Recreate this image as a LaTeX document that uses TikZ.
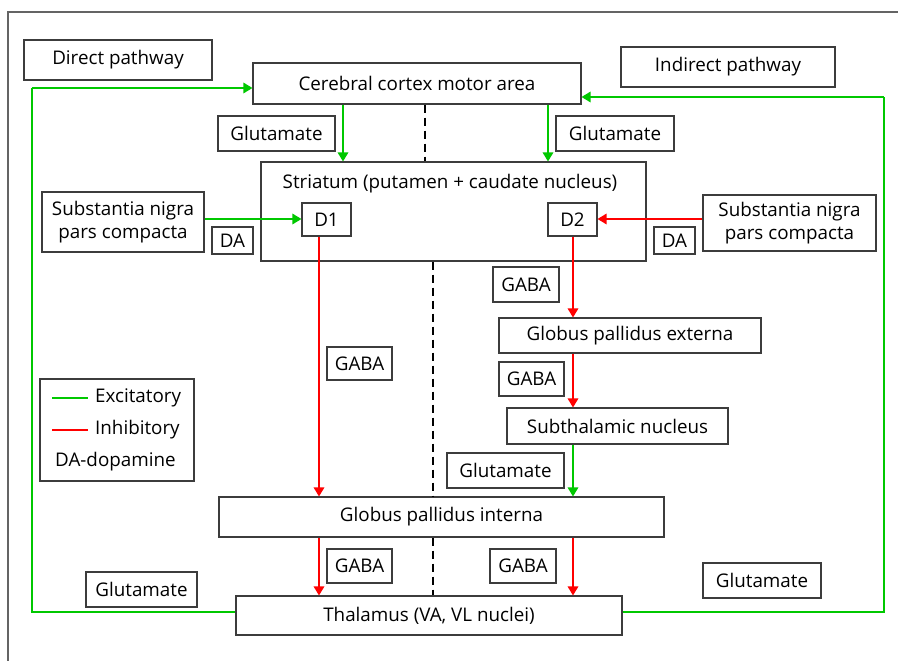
\documentclass[tikz,border=0pt]{standalone}
\usepackage{fontspec}
\setmainfont{Open Sans}
\usetikzlibrary{arrows.meta}
\definecolor{excc}{RGB}{0,200,0}
\definecolor{inhc}{RGB}{255,0,0}
\definecolor{edgec}{RGB}{60,60,60}
\definecolor{framec}{RGB}{100,100,100}
\begin{document}
\begin{tikzpicture}[x=1pt,y=-1pt,
  box/.style={draw=edgec, line width=1.1pt, inner sep=0pt, align=center, font=\fontsize{18.8}{22.5}\selectfont},
  txt/.style={inner sep=0pt, font=\fontsize{18.8}{22.5}\selectfont},
  exc/.style={draw=excc, line width=1.5pt, -{Triangle[width=10.5pt,length=9pt]}},
  inh/.style={draw=inhc, line width=1.5pt, -{Triangle[width=10.5pt,length=9pt]}},
  excline/.style={draw=excc, line width=1.5pt},
  inhline/.style={draw=inhc, line width=1.5pt},
  dashline/.style={draw=black, line width=1.1pt, dash pattern=on 8pt off 5pt}]
\useasboundingbox (0,0) rectangle (898,661);
\fill[white] (0,0) rectangle (898,661);
% frame (top and left)
\draw[framec, line width=1.5pt] (8,661) -- (8,12) -- (898,12);

% nodes
\node[box, minimum width=188pt, minimum height=40pt] (direct) at (118,60) {Direct pathway};
\node[box, minimum width=328pt, minimum height=41pt] (cortex) at (417,83.5) {Cerebral cortex motor area};
\node[box, minimum width=214pt, minimum height=40pt] (indirect) at (728,67) {Indirect pathway};
\node[box, minimum width=117pt, minimum height=35pt] (glutL) at (276.5,133.5) {Glutamate};
\node[box, minimum width=118pt, minimum height=35pt] (glutR) at (615,133.5) {Glutamate};
\node[box, minimum width=385pt, minimum height=99pt] (striatum) at (453.5,211.5) {};
\node[txt] (striatumlabel) at (450,184) {Striatum (putamen + caudate nucleus)};
\node[box, minimum width=49pt, minimum height=33pt] (D1) at (326.5,219.5) {D1};
\node[box, minimum width=49pt, minimum height=33pt] (D2) at (572.5,219.5) {D2};
\node[box, minimum width=162pt, minimum height=60pt] (snL) at (123,222) {Substantia nigra\\pars compacta};
\node[box, minimum width=41pt, minimum height=27pt] (daL) at (232.5,240.5) {DA};
\node[box, minimum width=173pt, minimum height=56pt] (snR) at (789.5,223) {Substantia nigra\\pars compacta};
\node[box, minimum width=41pt, minimum height=27pt] (daR) at (674.5,240.5) {DA};
\node[box, minimum width=66pt, minimum height=35pt] (gabaA) at (526,284.5) {GABA};
\node[box, minimum width=65pt, minimum height=33pt] (gabaB) at (359.5,363.5) {GABA};
\node[box, minimum width=262pt, minimum height=35pt] (gpe) at (630,335.5) {Globus pallidus externa};
\node[box, minimum width=65pt, minimum height=34pt] (gabaC) at (531.5,379) {GABA};
\node[box, minimum width=221pt, minimum height=36pt] (stn) at (617.5,426) {Subthalamic nucleus};
\node[box, minimum width=117pt, minimum height=35pt] (glutC) at (505.5,470.5) {Glutamate};
\node[box, minimum width=445pt, minimum height=40pt] (gpi) at (441.5,517) {Globus pallidus interna};
\node[box, minimum width=65pt, minimum height=34pt] (gabaD) at (359.5,566) {GABA};
\node[box, minimum width=66pt, minimum height=34pt] (gabaE) at (523,566) {GABA};
\node[box, minimum width=111pt, minimum height=35pt] (glutD) at (141.5,589.5) {Glutamate};
\node[box, minimum width=118pt, minimum height=35pt] (glutE) at (762,580.5) {Glutamate};
\node[box, minimum width=386pt, minimum height=39pt] (thal) at (429,615.5) {Thalamus (VA, VL nuclei)};

% legend
\node[box, minimum width=154pt, minimum height=102pt] (legend) at (117,430) {};
\node[txt, anchor=west] (lexc) at (95,398) {Excitatory};
\node[txt, anchor=west] (linh) at (95,430) {Inhibitory};
\node[txt, anchor=west] (lda) at (55,462) {DA-dopamine};
\draw[excline] (52,398) -- (88,398);
\draw[inhline] (52,430) -- (88,430);

% helper coordinates
\coordinate (xA) at (343,0);
\coordinate (xB) at (548,0);
\coordinate (xC) at (319,0);
\coordinate (xD) at (573,0);
\coordinate (xE) at (425,0);
\coordinate (xF) at (433,0);
\coordinate (yS) at (0,219);
\coordinate (loopL) at (32,88);
\coordinate (loopR) at (884,97);
\coordinate (yT) at (0,612);

% dashed midline
\draw[dashline] (cortex.south -| xE) -- (striatum.north -| xE);
\draw[dashline] (striatum.south -| xF) -- (gpi.north -| xF);
\draw[dashline] (gpi.south -| xF) -- (thal.north -| xF);

% cortex -> striatum
\draw[exc] (cortex.south -| xA) -- (striatum.north -| xA);
\draw[exc] (cortex.south -| xB) -- (striatum.north -| xB);

% SNc -> D1 / D2
\draw[exc] (snL.east |- yS) -- (D1.west |- yS);
\draw[inh] (snR.west |- yS) -- (D2.east |- yS);

% direct pathway
\draw[inh] (D1.south -| xC) -- (gpi.north -| xC);
\draw[inh] (gpi.south -| xC) -- (thal.north -| xC);

% indirect pathway
\draw[inh] (D2.south -| xD) -- (gpe.north -| xD);
\draw[inh] (gpe.south -| xD) -- (stn.north -| xD);
\draw[exc] (stn.south -| xD) -- (gpi.north -| xD);
\draw[inh] (gpi.south -| xD) -- (thal.north -| xD);

% thalamus -> cortex loops
\draw[excline] (thal.west |- yT) -| (loopL);
\draw[exc] (loopL) -- (cortex.west |- loopL);
\draw[excline] (thal.east |- yT) -| (loopR);
\draw[exc] (loopR) -- (cortex.east |- loopR);
\end{tikzpicture}
\end{document}
